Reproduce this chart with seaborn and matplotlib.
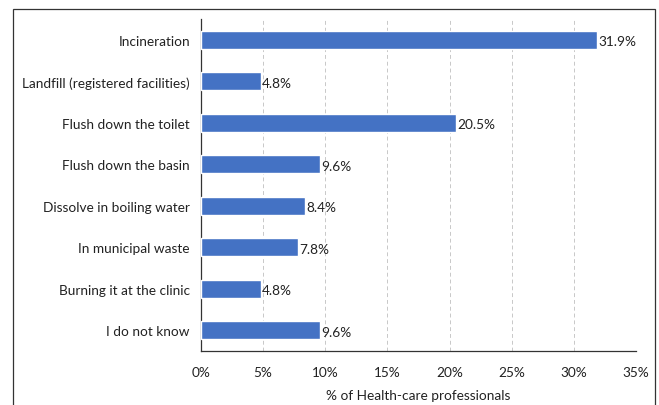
import matplotlib
matplotlib.use("Agg")
import matplotlib.pyplot as plt
import seaborn as sns
import pandas as pd
import numpy as np
from matplotlib.patches import Rectangle

categories = ["Incineration", "Landfill (registered facilities)", "Flush down the toilet",
              "Flush down the basin", "Dissolve in boiling water", "In municipal waste",
              "Burning it at the clinic", "I do not know"]
values = [31.9, 4.8, 20.5, 9.6, 8.4, 7.8, 4.8, 9.6]
xticks = [0, 5, 10, 15, 20, 25, 30, 35]
xlabel = "% of Health-care professionals"

sns.set_theme(style="white")
plt.rcParams['font.family'] = ['Lato', 'DejaVu Sans']

df = pd.DataFrame({"cat": categories, "val": values})

fig = plt.figure(figsize=(6.59, 4.06), dpi=100)
ax = fig.add_axes([201/659, 1-352/406, (636-201)/659, (352-20)/406])

sns.barplot(data=df, x="val", y="cat", orient="h", color="#4472C4", width=0.44,
            saturation=1, ax=ax, zorder=3)

fs = 9.8
ax.set_xlim(0, 35)
ax.set_ylim(7.5, -0.5)
ax.set_xticks(xticks)
ax.set_xticklabels([f"{t}%" for t in xticks], fontsize=fs, color="#222222")
ax.set_xlabel(xlabel, fontsize=fs, color="#222222", labelpad=8)
ax.set_ylabel("")
ax.tick_params(axis="y", which="major", length=0, labelsize=fs, labelcolor="#222222", pad=8)
ax.set_yticks(np.arange(-0.5, 8.0, 1.0), minor=True)
ax.tick_params(axis="y", which="minor", length=4, width=0.9, color="#333333", direction="out")
ax.tick_params(axis="x", which="major", length=4, width=0.9, color="#333333", direction="out", pad=7)

ax.grid(axis="x", color="#c8c8c8", linestyle=(0, (4, 3)), linewidth=0.7, zorder=0)
ax.grid(axis="y", visible=False)
for s in ["top", "right"]:
    ax.spines[s].set_visible(False)
for s in ["left", "bottom"]:
    ax.spines[s].set_visible(True)
    ax.spines[s].set_color("#333333")
    ax.spines[s].set_linewidth(0.9)

for i, v in enumerate(values):
    ax.text(v + 0.1, i + 0.04, f"{v}%", va="center", ha="left", fontsize=fs, color="#222222")

# outer frame
fig.patches.append(Rectangle((13/659, -0.01), (655-13)/659, 1.01 - 10/406,
                             transform=fig.transFigure, fill=False,
                             edgecolor="#333333", linewidth=0.9))

fig.savefig("out.png", dpi=100)
